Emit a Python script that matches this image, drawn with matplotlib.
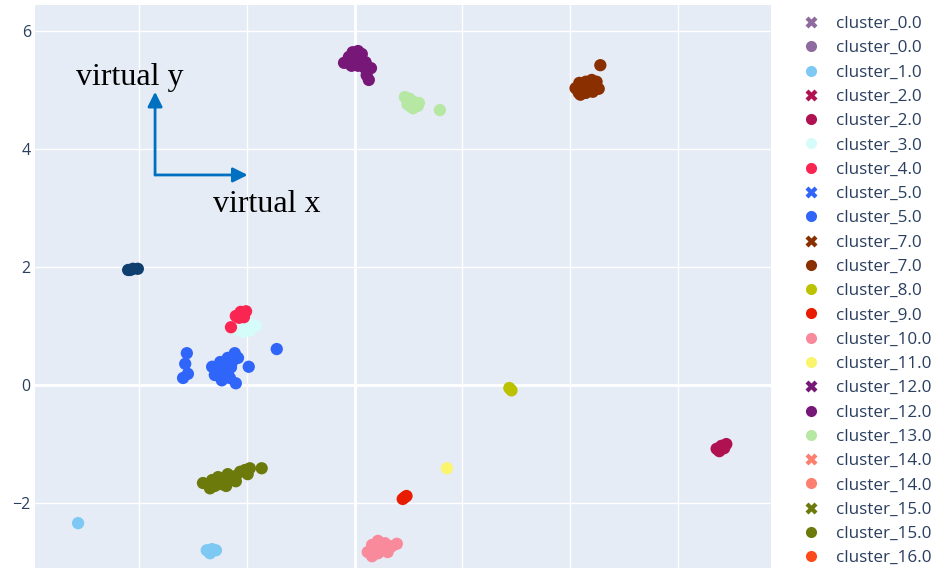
import matplotlib
matplotlib.use("Agg")
import matplotlib.pyplot as plt
from matplotlib.lines import Line2D

# cluster point positions
c1_x = [-5.14, -2.75, -2.65, -2.58, -2.69]
c1_y = [-2.34, -2.80, -2.78, -2.80, -2.85]
c2_x = [6.72, 6.81, 6.90, 6.77, 6.86]
c2_y = [-1.08, -1.03, -1.00, -1.12, -1.07]
c3_x = [-2.17, -2.04, -1.91, -1.84, -2.08, -1.95]
c3_y = [0.93, 0.97, 1.02, 1.00, 0.90, 0.92]
c4_x = [-2.21, -2.12, -2.02, -2.06, -2.15, -2.30]
c4_y = [1.17, 1.24, 1.25, 1.15, 1.14, 0.98]
c5_x = [-3.12, -3.15, -3.19, -3.10, -2.65, -2.50, -2.36, -2.23, -2.28, -2.41,
        -2.54, -2.47, -2.32, -2.21, -2.36, -2.60, -2.17, -1.97, -1.45,
        -2.45, -2.30, -2.58]
c5_y = [0.54, 0.36, 0.12, 0.19, 0.31, 0.39, 0.46, 0.54, 0.39, 0.25,
        0.17, 0.08, 0.12, 0.03, 0.20, 0.17, 0.46, 0.31, 0.61,
        0.32, 0.30, 0.27]
c7_x = [4.10, 4.17, 4.29, 4.40, 4.49, 4.53, 4.42, 4.29, 4.16, 4.23, 4.36, 4.47, 4.19, 4.56]
c7_y = [5.03, 5.12, 5.14, 5.17, 5.14, 5.02, 4.97, 4.95, 4.95, 5.03, 5.05, 5.03, 4.92, 5.42]
c8_x = [2.87, 2.91]
c8_y = [-0.05, -0.09]
c9_x = [0.89, 0.96, 0.93]
c9_y = [-1.93, -1.88, -1.90]
c10_x = [0.24, 0.32, 0.43, 0.56, 0.69, 0.78, 0.61, 0.43, 0.32, 0.52, 0.38, 0.50]
c10_y = [-2.83, -2.71, -2.64, -2.68, -2.73, -2.69, -2.83, -2.85, -2.90, -2.78, -2.76, -2.72]
c11_x = [1.71]
c11_y = [-1.41]
c12_x = [-0.20, -0.11, -0.04, 0.06, 0.13, -0.09, 0.02, 0.11, 0.20, 0.30, 0.19, 0.22, 0.26, 0.06, -0.06]
c12_y = [5.46, 5.56, 5.64, 5.66, 5.61, 5.44, 5.51, 5.51, 5.47, 5.37, 5.37, 5.25, 5.17, 5.41, 5.41]
c13_x = [0.93, 1.02, 1.09, 1.17, 0.98, 1.08, 1.19, 1.02, 1.58]
c13_y = [4.88, 4.85, 4.80, 4.73, 4.76, 4.69, 4.78, 4.73, 4.66]
c15_x = [-2.82, -2.65, -2.54, -2.47, -2.32, -2.21, -2.13, -2.04, -1.95, -2.21,
         -2.39, -2.60, -1.99, -1.73, -2.36, -2.69, -2.45, -2.28]
c15_y = [-1.66, -1.61, -1.56, -1.68, -1.61, -1.54, -1.47, -1.44, -1.41, -1.63,
         -1.71, -1.71, -1.51, -1.41, -1.51, -1.75, -1.62, -1.57]
navy_x = [-4.21, -4.12, -4.03, -4.17]
navy_y = [1.95, 1.97, 1.97, 1.95]

colors = {
    "cluster_0.0": "#8E6A9E", "cluster_1.0": "#7EC8F4", "cluster_2.0": "#B01150",
    "cluster_3.0": "#D6FCF9", "cluster_4.0": "#FB2551", "cluster_5.0": "#2F65F9",
    "cluster_7.0": "#8A2F00", "cluster_8.0": "#BCC100", "cluster_9.0": "#E81C00",
    "cluster_10.0": "#F88A9B", "cluster_11.0": "#FAF56C", "cluster_12.0": "#771878",
    "cluster_13.0": "#B6E8A4", "cluster_14.0": "#FD7F6F", "cluster_15.0": "#6B7A0B",
    "cluster_16.0": "#FD4A1B",
}

# legend order as in the reference (X = cross marker entries)
legend_rows = [
    ("cluster_0.0", "X"), ("cluster_0.0", "o"), ("cluster_1.0", "o"),
    ("cluster_2.0", "X"), ("cluster_2.0", "o"), ("cluster_3.0", "o"),
    ("cluster_4.0", "o"), ("cluster_5.0", "X"), ("cluster_5.0", "o"),
    ("cluster_7.0", "X"), ("cluster_7.0", "o"), ("cluster_8.0", "o"),
    ("cluster_9.0", "o"), ("cluster_10.0", "o"), ("cluster_11.0", "o"),
    ("cluster_12.0", "X"), ("cluster_12.0", "o"), ("cluster_13.0", "o"),
    ("cluster_14.0", "X"), ("cluster_14.0", "o"), ("cluster_15.0", "X"),
    ("cluster_15.0", "o"), ("cluster_16.0", "o"),
]

series = [
    ("cluster_1.0", c1_x, c1_y), ("cluster_2.0", c2_x, c2_y),
    ("cluster_3.0", c3_x, c3_y), ("cluster_4.0", c4_x, c4_y),
    ("cluster_5.0", c5_x, c5_y), ("cluster_7.0", c7_x, c7_y),
    ("cluster_8.0", c8_x, c8_y), ("cluster_9.0", c9_x, c9_y),
    ("cluster_10.0", c10_x, c10_y), ("cluster_11.0", c11_x, c11_y),
    ("cluster_12.0", c12_x, c12_y), ("cluster_13.0", c13_x, c13_y),
    ("cluster_15.0", c15_x, c15_y),
]

BG = "#E5ECF6"
TICK = "#2a3f5f"

fig = plt.figure(figsize=(9.33, 5.68), dpi=100)
ax = fig.add_axes([35 / 933, 0, (771 - 35) / 933, 563 / 568])
ax.set_facecolor(BG)
for s in ax.spines.values():
    s.set_visible(False)

for name, xs, ys in series:
    ax.scatter(xs, ys, s=78, color=colors[name], edgecolors="none", zorder=3)
ax.scatter(navy_x, navy_y, s=78, color="#0F3F6E", edgecolors="none", zorder=3)

ax.set_xlim(-5.94, 7.73)
ax.set_ylim(-3.10, 6.44)
ax.set_xticks([-4, -2, 0, 2, 4, 6])
ax.set_yticks([-2, 0, 2, 4, 6])
ax.set_xticklabels([])
ax.tick_params(length=0, pad=3, labelsize=11.5, labelcolor=TICK)
for lbl in ax.get_yticklabels():
    lbl.set_family("Open Sans")
ax.grid(True, color="white", linewidth=1.0, zorder=0)
ax.set_axisbelow(True)
ax.axhline(0, color="white", linewidth=2.0, zorder=1)
ax.axvline(0, color="white", linewidth=2.0, zorder=1)

# "virtual" axes overlay
arrow_c = "#0070C0"
ax.annotate("", xy=(-3.71, 4.97), xytext=(-3.71, 3.56),
            arrowprops=dict(arrowstyle="-|>", color=arrow_c, lw=2, mutation_scale=22,
                            shrinkA=0, shrinkB=0), zorder=4)
ax.annotate("", xy=(-1.99, 3.56), xytext=(-3.71, 3.56),
            arrowprops=dict(arrowstyle="-|>", color=arrow_c, lw=2, mutation_scale=22,
                            shrinkA=0, shrinkB=0), zorder=4)
ax.text(-5.18, 5.08, "virtual y", family="Liberation Serif", fontsize=23,
        ha="left", va="baseline", color="black", zorder=5)
ax.text(-2.63, 2.93, "virtual x", family="Liberation Serif", fontsize=23,
        ha="left", va="baseline", color="black", zorder=5)

handles = []
for name, mk in legend_rows:
    handles.append(Line2D([], [], linestyle="none", marker=mk, markersize=8 if mk == "o" else 8.5,
                          markerfacecolor=colors[name], markeredgecolor="none", label=name))
fig.legend(handles=handles, loc="upper left", bbox_to_anchor=(802 / 933, 1 - 16 / 568),
           frameon=False, borderpad=0, borderaxespad=0, handlelength=1.0,
           handletextpad=1.0, labelspacing=0.485,
           prop={"family": "Open Sans", "size": 12.3}, labelcolor=TICK)

fig.savefig("out.png", dpi=100, facecolor="white")
